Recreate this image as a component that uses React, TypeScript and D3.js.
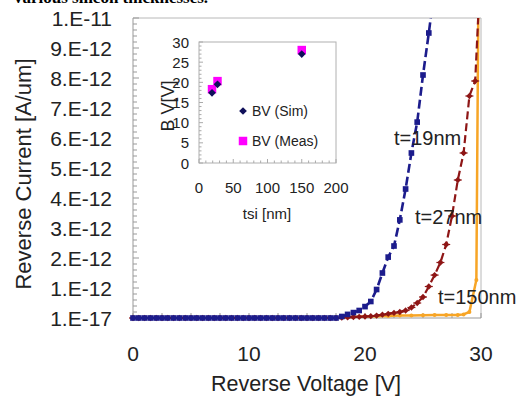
import * as d3 from "d3";

const W = 522;
const H = 397;

// reverse voltage [V], 0.5 V steps
const voltage = [
  0, 0.5, 1, 1.5, 2, 2.5, 3, 3.5, 4, 4.5, 5, 5.5, 6, 6.5, 7, 7.5, 8, 8.5, 9, 9.5,
  10, 10.5, 11, 11.5, 12, 12.5, 13, 13.5, 14, 14.5, 15, 15.5, 16, 16.5, 17, 17.5,
  18, 18.5, 19, 19.5, 20, 20.5, 21, 21.5, 22, 22.5, 23, 23.5, 24, 24.5, 25, 25.5,
  26, 26.5, 27, 27.5, 28, 28.5, 29, 29.5, 30,
];

// reverse current in units of 1e-12 A/um (0 == 1.E-17)
const current19 = [
  0, 0, 0, 0, 0, 0, 0, 0, 0, 0, 0, 0, 0, 0, 0, 0, 0, 0, 0, 0,
  0, 0, 0, 0, 0, 0, 0, 0, 0, 0, 0, 0, 0, 0, 0, 0,
  0.05, 0.12, 0.18, 0.25, 0.38, 0.55, 0.95, 1.5, 2.03, 2.4, 3.27, 4.3, 5.5, 6.53,
  8.1, 9.5, 11.0,
];

const current27 = [
  0, 0, 0, 0, 0, 0, 0, 0, 0, 0, 0, 0, 0, 0, 0, 0, 0, 0, 0, 0,
  0, 0, 0, 0, 0, 0, 0, 0, 0, 0, 0, 0, 0, 0, 0, 0,
  0.01, 0.02, 0.03, 0.04, 0.05, 0.06, 0.08, 0.11, 0.14, 0.17, 0.2, 0.25, 0.35,
  0.5, 0.7, 1.05, 1.43, 1.85, 2.45, 3.4, 4.6, 5.5, 7.4, 7.9, 12,
];

const voltage150 = [0, 18, 19, 20, 21, 22, 23, 24, 25, 26, 27, 28, 28.5, 29, 29.6, 29.8];
const current150 = [0, 0.02, 0.04, 0.05, 0.06, 0.07, 0.08, 0.08, 0.09, 0.1, 0.1, 0.1, 0.12, 0.2, 1.27, 12];

const yTickLabels = [
  "1.E-17", "1.E-12", "2.E-12", "3.E-12", "4.E-12", "5.E-12",
  "6.E-12", "7.E-12", "8.E-12", "9.E-12", "1.E-11",
];
const xTicks = [0, 10, 20, 30];

// inset: breakdown voltage vs silicon thickness
const tsi = [19, 27, 150];
const bvSim = [17.4, 19.5, 27.0];
const bvMeas = [18.3, 20.3, 28.0];

const font = "'Liberation Sans', Arial, sans-serif";

const navy = "#1c1c8c";
const darkRed = "#8e1616";
const orange = "#f7a526";
const magenta = "#ff00ff";

function App() {
  const x = d3.scaleLinear().domain([0, 30]).range([133, 481]);
  const y = d3.scaleLinear().domain([0, 10]).range([318, 18]);

  const ix = d3.scaleLinear().domain([0, 200]).range([199, 336]);
  const iy = d3.scaleLinear().domain([0, 30]).range([163, 42]);

  const line = d3
    .line<[number, number]>()
    .x((d) => x(d[0]))
    .y((d) => y(d[1]));

  const pts19 = current19.map((c, i) => [voltage[i], c] as [number, number]);
  const pts27 = current27.map((c, i) => [voltage[i], c] as [number, number]);
  const pts150 = current150.map((c, i) => [voltage150[i], c] as [number, number]);

  const square = d3.symbol().type(d3.symbolSquare).size(32)();
  const diamond = d3.symbol().type(d3.symbolSquare).size(20)();
  const bigSquare = d3.symbol().type(d3.symbolSquare).size(72)();
  const bigDiamond = d3.symbol().type(d3.symbolSquare).size(30)();

  const minorY = d3.range(0, 10.01, 0.2);
  const minorX = d3.range(0, 30.01, 2.5);
  const insetMinorY = d3.range(0, 30.01, 1);
  const insetMinorX = d3.range(0, 200.01, 10);

  return (
    <svg
      width={W}
      height={H}
      style={{ position: "absolute", left: 0, top: 0, background: "#fff" }}
      fontFamily={font}
    >
      <defs>
        <clipPath id="plot">
          <rect x={x(0) - 4} y={y(10)} width={x(30) - x(0) + 8} height={y(0) - y(10) + 6} />
        </clipPath>
      </defs>

      {/* caption line cut by the top edge */}
      <text x={14} y={3} fontFamily="'Liberation Serif', serif" fontWeight="bold" fontSize={17}>
        various silicon thicknesses.
      </text>

      {/* frame */}
      <line x1={x(0)} x2={x(30)} y1={y(10)} y2={y(10)} stroke="#b8b8b8" />
      <line x1={x(30)} x2={x(30)} y1={y(10)} y2={y(0)} stroke="#b8b8b8" />
      <line x1={x(0)} x2={x(30)} y1={y(0)} y2={y(0)} stroke="#999" />
      <line x1={x(0)} x2={x(0)} y1={y(10)} y2={y(0)} stroke="#999" />
      {minorY.map((v, i) => (
        <line
          key={"my" + i}
          x1={x(0)}
          x2={x(0) + (i % 5 === 0 ? 6 : 4)}
          y1={y(v)}
          y2={y(v)}
          stroke="#999"
        />
      ))}
      {minorX.map((v, i) => (
        <line key={"mx" + i} x1={x(v)} x2={x(v)} y1={y(0)} y2={y(0) - 5} stroke="#999" />
      ))}

      {/* y tick labels */}
      {yTickLabels.map((t, i) => (
        <text
          key={t}
          x={112}
          y={y(i)}
          textAnchor="end"
          dominantBaseline="central"
          fontSize={21}
          fill="#222"
        >
          {t}
        </text>
      ))}
      {/* x tick labels */}
      {xTicks.map((t) => (
        <text
          key={t}
          x={x(t)}
          y={353}
          textAnchor="middle"
          dominantBaseline="central"
          fontSize={21}
          fill="#222"
        >
          {t}
        </text>
      ))}

      <text x={306} y={391} textAnchor="middle" fontSize={21.5} fill="#222">
        Reverse Voltage [V]
      </text>
      <text
        transform="translate(23,174) rotate(-90)"
        textAnchor="middle"
        dominantBaseline="central"
        fontSize={22}
        fill="#222"
      >
        Reverse Current [A/um]
      </text>

      {/* curves */}
      <g clipPath="url(#plot)">
        <path d={line(pts150) || ""} fill="none" stroke={orange} strokeWidth={2.5} />
        {pts150.slice(1).map((d, i) => (
          <circle key={"o" + i} cx={x(d[0])} cy={y(d[1])} r={2} fill={orange} />
        ))}

        <path d={line(pts27) || ""} fill="none" stroke={darkRed} strokeWidth={2.2} strokeDasharray="8,4" />
        {pts27.map((d, i) => (
          <g key={"r" + i} transform={`translate(${x(d[0])},${y(d[1])})`}>
            <path d={diamond || ""} transform="rotate(45)" fill={darkRed} />
            <line x1={-4} x2={4} y1={0} y2={0} stroke={darkRed} strokeWidth={1.2} />
          </g>
        ))}

        <path d={line(pts19) || ""} fill="none" stroke={navy} strokeWidth={2.6} strokeDasharray="9,4" />
        {pts19.map((d, i) => (
          <path
            key={"b" + i}
            d={square || ""}
            transform={`translate(${x(d[0])},${y(d[1])})`}
            fill={navy}
          />
        ))}
      </g>

      {/* curve labels */}
      <text x={394} y={138} dominantBaseline="central" fontSize={20} fill="#222">
        t=19nm
      </text>
      <text x={415} y={217} dominantBaseline="central" fontSize={20} fill="#222">
        t=27nm
      </text>
      <text x={438} y={297} dominantBaseline="central" fontSize={20} fill="#222">
        t=150nm
      </text>

      {/* inset */}
      <rect
        x={ix(0)}
        y={iy(30)}
        width={ix(200) - ix(0)}
        height={iy(0) - iy(30)}
        fill="#fff"
        stroke="#b0b0b0"
      />
      {insetMinorY.map((v, i) => (
        <line
          key={"iy" + i}
          x1={ix(0)}
          x2={ix(0) + (i % 5 === 0 ? 4 : 2.5)}
          y1={iy(v)}
          y2={iy(v)}
          stroke="#aaa"
        />
      ))}
      {insetMinorX.map((v, i) => (
        <line
          key={"ix" + i}
          x1={ix(v)}
          x2={ix(v)}
          y1={iy(0)}
          y2={iy(0) - (i % 5 === 0 ? 4 : 2.5)}
          stroke="#aaa"
        />
      ))}
      {iy.ticks(6).map((t) => (
        <text
          key={"iyl" + t}
          x={189}
          y={iy(t)}
          textAnchor="end"
          dominantBaseline="central"
          fontSize={15}
          fill="#222"
        >
          {t}
        </text>
      ))}
      {[0, 50, 100, 150, 200].map((t) => (
        <text
          key={"ixl" + t}
          x={ix(t)}
          y={187}
          textAnchor="middle"
          dominantBaseline="central"
          fontSize={15}
          fill="#222"
        >
          {t}
        </text>
      ))}
      <text x={267} y={213} textAnchor="middle" dominantBaseline="central" fontSize={15} fill="#222">
        tsi [nm]
      </text>
      <text
        transform="translate(168,106) rotate(-90)"
        textAnchor="middle"
        dominantBaseline="central"
        fontSize={18}
        fill="#222"
      >
        B V[V]
      </text>

      {tsi.map((t, i) => (
        <path
          key={"im" + i}
          d={bigSquare || ""}
          transform={`translate(${ix(t)},${iy(bvMeas[i])})`}
          fill={magenta}
        />
      ))}
      {tsi.map((t, i) => (
        <path
          key={"is" + i}
          d={bigDiamond || ""}
          transform={`translate(${ix(t)},${iy(bvSim[i])}) rotate(45)`}
          fill="#10105a"
        />
      ))}

      {/* inset legend */}
      <path d={bigDiamond || ""} transform="translate(243,111) rotate(45)" fill="#10105a" />
      <text x={252} y={111} dominantBaseline="central" fontSize={14} fill="#222">
        BV (Sim)
      </text>
      <path d={bigSquare || ""} transform="translate(243,141)" fill={magenta} />
      <text x={252} y={141} dominantBaseline="central" fontSize={14} fill="#222">
        BV (Meas)
      </text>
    </svg>
  );
}

export default App;
